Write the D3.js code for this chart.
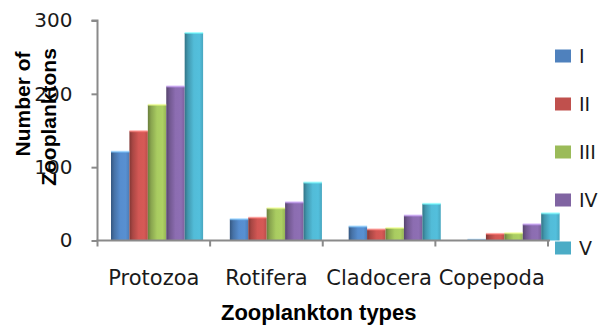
<!DOCTYPE html>
<html>
<head>
<meta charset="utf-8">
<script src="https://cdn.jsdelivr.net/npm/d3@7"></script>
<style>
  html, body { margin: 0; padding: 0; background: #fff; }
  svg { display: block; }
</style>
</head>
<body>
<svg id="chart" width="598" height="329"></svg>
<script>
// Zooplankton counts per type, for stations I–V
const categories = ["Protozoa", "Rotifera", "Cladocera", "Copepoda"];
const seriesNames = ["I", "II", "III", "IV", "V"];
const seriesI   = [121, 29, 19, 1];
const seriesII  = [149, 31, 15, 9];
const seriesIII = [185, 44, 17, 10];
const seriesIV  = [210, 52, 34, 22];
const seriesV   = [283, 79, 50, 37];
const yTicks = [0, 100, 200, 300];
const colors = ["#4F81BD", "#C0504D", "#9BBB59", "#8064A2", "#4BACC6"];

const allSeries = [seriesI, seriesII, seriesIII, seriesIV, seriesV];
const rows = categories.map((c, i) => ({
  category: c,
  values: seriesNames.map((s, j) => ({ series: s, idx: j, value: allSeries[j][i] }))
}));

const svg = d3.select("#chart");

const plot = { left: 97.5, right: 548, top: 20.5, bottom: 240.5 };

const y = d3.scaleLinear().domain([0, 300]).range([plot.bottom, plot.top]);

// axis categories
const xAxisScale = d3.scaleBand().domain(categories).range([plot.left, plot.right]);
// bar groups (slightly drifting to the right, as drawn)
const xGroup = d3.scaleBand().domain(categories).range([111, 559.6]).paddingInner(0.225).paddingOuter(0);
const xSub = d3.scaleBand().domain(seriesNames).range([0, xGroup.bandwidth()]);

// gradients: dark left edge, lighter body, slight darkening at right
const defs = svg.append("defs");
colors.forEach((c, i) => {
  const base = d3.color(c);
  const g = defs.append("linearGradient").attr("id", "grad" + i)
    .attr("x1", "0").attr("x2", "1").attr("y1", "0").attr("y2", "0");
  g.append("stop").attr("offset", "0").attr("stop-color", base.darker(1.1));
  g.append("stop").attr("offset", "0.18").attr("stop-color", base.darker(0.35));
  g.append("stop").attr("offset", "0.5").attr("stop-color", base.brighter(0.25));
  g.append("stop").attr("offset", "0.8").attr("stop-color", base.brighter(0.3));
  g.append("stop").attr("offset", "1").attr("stop-color", base.darker(0.1));
});

// bars
const groups = svg.append("g").selectAll("g").data(rows).join("g")
  .attr("transform", d => `translate(${xGroup(d.category)},0)`);

groups.selectAll("rect.bar").data(d => d.values).join("rect")
  .attr("class", "bar")
  .attr("x", d => xSub(d.series))
  .attr("width", xSub.bandwidth())
  .attr("y", d => y(d.value))
  .attr("height", d => y(0) - y(d.value))
  .attr("fill", d => `url(#grad${d.idx})`);

// light rim on bar tops
groups.selectAll("rect.cap").data(d => d.values).join("rect")
  .attr("class", "cap")
  .attr("x", d => xSub(d.series))
  .attr("width", xSub.bandwidth())
  .attr("y", d => y(d.value) - 1)
  .attr("height", d => Math.min(2, y(0) - y(d.value) + 1))
  .attr("fill", d => d3.color(colors[d.idx]).brighter(1.2))
  .attr("opacity", 0.6);

// y axis
const yAxis = d3.axisLeft(y).tickValues(yTicks).tickSize(6).tickPadding(19);
const gy = svg.append("g").attr("transform", `translate(${plot.left},0)`).call(yAxis);
gy.select(".domain").attr("stroke", "#8a8a8a").attr("stroke-width", 2)
  .attr("d", `M-6,${plot.top}H0V${plot.bottom}`);
gy.selectAll(".tick line").attr("stroke", "#8a8a8a").attr("stroke-width", 2);
gy.selectAll(".tick text").attr("fill", "#1a1a1a")
  .style("font-family", "DejaVu Sans").style("font-size", "20px");

// x axis
const xAxis = d3.axisBottom(xAxisScale).tickSize(0).tickPadding(30);
const gx = svg.append("g").attr("transform", `translate(0,${plot.bottom})`).call(xAxis);
gx.select(".domain").attr("stroke", "#8a8a8a").attr("stroke-width", 2)
  .attr("d", `M${plot.left - 1},0H${plot.right + 2}`);
gx.selectAll(".tick text").attr("fill", "#1a1a1a")
  .style("font-family", "DejaVu Sans").style("font-size", "21px");
// category separators
const sepPos = categories.map(c => xAxisScale(c)).concat([plot.right]);
gx.selectAll("line.sep").data(sepPos).join("line").attr("class", "sep")
  .attr("x1", d => d).attr("x2", d => d).attr("y1", 0).attr("y2", 6)
  .attr("stroke", "#8a8a8a").attr("stroke-width", 2);

// axis titles
svg.append("text")
  .attr("x", (plot.left + plot.right) / 2 - 4).attr("y", 320)
  .attr("text-anchor", "middle")
  .style("font-family", "Liberation Sans").style("font-weight", "bold").style("font-size", "22px")
  .attr("fill", "#000").text("Zooplankton types");

svg.append("text")
  .attr("transform", "translate(30,104) rotate(-90)")
  .attr("text-anchor", "middle")
  .style("font-family", "Liberation Sans").style("font-weight", "bold").style("font-size", "21px")
  .attr("fill", "#000").text("Number of");
svg.append("text")
  .attr("transform", "translate(56,117) rotate(-90)")
  .attr("text-anchor", "middle")
  .style("font-family", "Liberation Sans").style("font-weight", "bold").style("font-size", "21px")
  .attr("fill", "#000").text("Zooplanktons");

// legend
const legendY = d3.scalePoint().domain(seriesNames).range([56, 248]);
const legend = svg.append("g").selectAll("g").data(seriesNames).join("g")
  .attr("transform", d => `translate(555,${legendY(d)})`);
legend.append("rect").attr("x", 0).attr("y", -6.5).attr("width", 16).attr("height", 13)
  .attr("fill", (d, i) => colors[i]);
legend.append("text").attr("x", 24).attr("y", 0).attr("dy", "0.36em")
  .style("font-family", "DejaVu Sans").style("font-size", "19px")
  .attr("fill", "#1a1a1a").text(d => d);
</script>
</body>
</html>
